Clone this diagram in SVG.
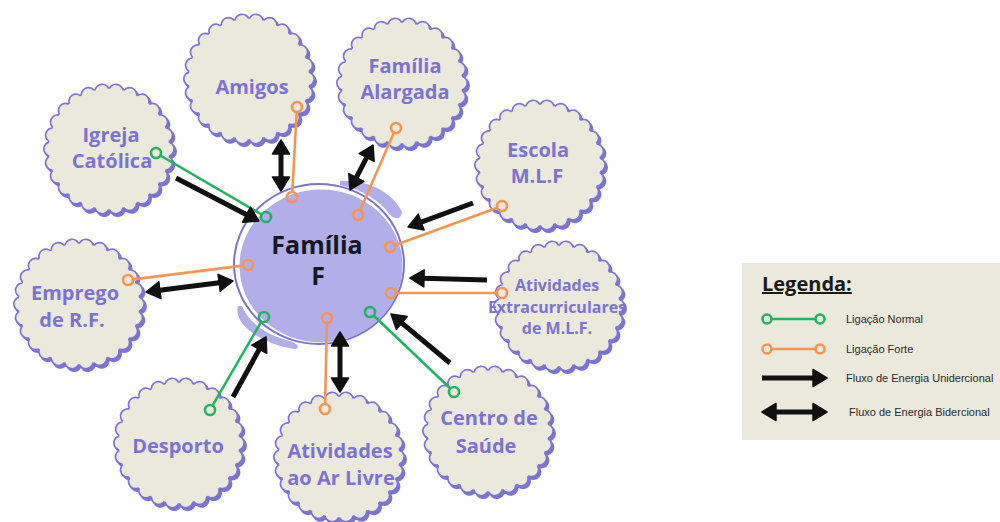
<svg xmlns="http://www.w3.org/2000/svg" width="1000" height="522" viewBox="0 0 1000 522">
<style>
.sp{fill:#7b74d4}
.sd{fill:none;stroke:#7b74d4;stroke-width:16;stroke-linecap:round;stroke-dasharray:0.001 0.999}
.sb{fill:#ebe8dc}
.sdb{fill:none;stroke:#ebe8dc;stroke-width:12.6;stroke-linecap:round;stroke-dasharray:0.001 0.999}
.lbl{font-family:"Open Sans","Liberation Sans",sans-serif;font-weight:700;font-size:20px;fill:#7b73d3;text-anchor:middle}
.sm{font-size:16px}
.ctr{font-family:"Open Sans","Liberation Sans",sans-serif;font-weight:700;font-size:25px;fill:#17171f;text-anchor:middle}
.g{stroke:#22b462;stroke-width:2.6;fill:none}
.o{stroke:#f7944f;stroke-width:2.6;fill:none}
.ar{stroke:#111;stroke-width:5;fill:none}
.uni{marker-end:url(#ah)}
.bi{marker-start:url(#ah);marker-end:url(#ah)}
.leg{font-family:"Liberation Sans",Arial,sans-serif;font-size:11px;fill:#2a2a2a}
</style>
<defs>
<g id="scallop">
  <g transform="translate(2,2.5)">
    <circle r="61" class="sp"/>
    <circle r="58" class="sd" pathLength="26"/>
  </g>
  <circle r="61" class="sp"/>
  <circle r="58" class="sd" pathLength="26"/>
  <circle r="60.2" class="sb"/>
  <circle r="58" class="sdb" pathLength="26"/>
</g>
<marker id="ah" viewBox="0 0 16 20" refX="11" refY="10" markerWidth="16" markerHeight="20" markerUnits="userSpaceOnUse" orient="auto-start-reverse">
  <path d="M1,1.5 L15,10 L1,18.5 Z" fill="#111" stroke="#111" stroke-width="1.5" stroke-linejoin="round"/>
</marker>
</defs>
<rect width="1000" height="522" fill="#ffffff"/>

<g id="node-amigos">
  <use href="#scallop" x="249" y="79"/>
  <text class="lbl" x="252" y="94">Amigos</text>
</g>
<g id="node-familia-alargada">
  <use href="#scallop" x="402" y="83"/>
  <text class="lbl" x="405" y="73">Família</text>
  <text class="lbl" x="405" y="99">Alargada</text>
</g>
<g id="node-escola">
  <use href="#scallop" x="540" y="165"/>
  <text class="lbl" x="538" y="157">Escola</text>
  <text class="lbl" x="537" y="183">M.L.F</text>
</g>
<g id="node-atividades-extra">
  <use href="#scallop" x="559" y="306"/>
  <text class="lbl sm" x="557" y="291">Atividades</text>
  <text class="lbl sm" x="557" y="313">Extracurriculares</text>
  <text class="lbl sm" x="557" y="334">de M.L.F.</text>
</g>
<g id="node-centro-saude">
  <use href="#scallop" x="488" y="431"/>
  <text class="lbl" x="489" y="425">Centro de</text>
  <text class="lbl" x="486" y="453">Saúde</text>
</g>
<g id="node-ar-livre">
  <use href="#scallop" x="339" y="457"/>
  <text class="lbl" x="340" y="458">Atividades</text>
  <text class="lbl" x="341" y="485">ao Ar Livre</text>
</g>
<g id="node-desporto">
  <use href="#scallop" x="179" y="443"/>
  <text class="lbl" x="178" y="453">Desporto</text>
</g>
<g id="node-emprego">
  <use href="#scallop" x="79" y="304"/>
  <text class="lbl" x="75" y="300">Emprego</text>
  <text class="lbl" x="72" y="327">de R.F.</text>
</g>
<g id="node-igreja">
  <use href="#scallop" x="109" y="149"/>
  <text class="lbl" x="111" y="142">Igreja</text>
  <text class="lbl" x="112" y="168">Católica</text>
</g>

<g id="node-familia-f">
  <path d="M340,181 C366,179 393,192 402,212 C401,221 393,220 387,211 C375,197 359,189 340,185 Z" fill="#b1aeea"/>
  <path d="M238,306 C233,322 256,342 294,349 C301,349 298,343 290,341 C266,335 249,323 242,306 Z" fill="#b1aeea"/>
  <ellipse cx="319" cy="264" rx="85" ry="80" fill="#ffffff" stroke="#7b74d4" stroke-width="2"/>
  <ellipse cx="321" cy="266" rx="81.5" ry="76.5" fill="#b1aeea"/>
  <text class="ctr" x="317" y="254">Família</text>
  <text class="ctr" x="318" y="285">F</text>
</g>

<g id="connectors">
  <line class="o" x1="296.7" y1="112" x2="292.3" y2="192"/>
  <line class="o" x1="394" y1="132.6" x2="360" y2="210.4"/>
  <line class="o" x1="497.3" y1="207.7" x2="394.7" y2="245.3"/>
  <line class="o" x1="497" y1="293" x2="396" y2="293"/>
  <line class="g" x1="450.4" y1="388.5" x2="373.6" y2="315.5"/>
  <line class="o" x1="325.1" y1="404" x2="326.9" y2="323"/>
  <line class="g" x1="212.5" y1="405.7" x2="261.5" y2="321.3"/>
  <line class="o" x1="133" y1="279.4" x2="243" y2="265.6"/>
  <line class="g" x1="160.3" y1="155.5" x2="261.7" y2="214.5"/>
  <g class="o">
    <circle cx="297" cy="107" r="5"/><circle cx="292" cy="197" r="5"/>
    <circle cx="396" cy="128" r="5"/><circle cx="358" cy="215" r="5"/>
    <circle cx="502" cy="206" r="5"/><circle cx="390" cy="247" r="5"/>
    <circle cx="502" cy="293" r="5"/><circle cx="391" cy="293" r="5"/>
    <circle cx="325" cy="409" r="5"/><circle cx="327" cy="318" r="5"/>
    <circle cx="128" cy="280" r="5"/><circle cx="248" cy="265" r="5"/>
  </g>
  <g class="g">
    <circle cx="454" cy="392" r="5"/><circle cx="370" cy="312" r="5"/>
    <circle cx="210" cy="410" r="5"/><circle cx="264" cy="317" r="5"/>
    <circle cx="156" cy="153" r="5"/><circle cx="266" cy="217" r="5"/>
  </g>
  <line class="ar bi" x1="281" y1="144" x2="281" y2="187"/>
  <line class="ar bi" x1="371.2" y1="148.6" x2="351.8" y2="186.4"/>
  <line class="ar uni" x1="473" y1="203" x2="411.8" y2="225.6"/>
  <line class="ar uni" x1="487" y1="280" x2="414" y2="278.1"/>
  <line class="ar uni" x1="450" y1="363" x2="394.1" y2="316.6"/>
  <line class="ar bi" x1="340" y1="336" x2="340" y2="388"/>
  <line class="ar uni" x1="233" y1="397" x2="264.1" y2="340.5"/>
  <line class="ar bi" x1="150" y1="291.5" x2="229" y2="281.5"/>
  <line class="ar uni" x1="176" y1="178" x2="255.4" y2="219.2"/>
</g>

<g id="legend">
  <rect x="742" y="263" width="258" height="177" fill="#ebe8dc"/>
  <text x="762" y="291" font-family="Open Sans, Liberation Sans, sans-serif" font-weight="700" font-size="20" fill="#1a1a1a" text-decoration="underline">Legenda:</text>
  <line class="g" x1="771.5" y1="319" x2="815.5" y2="319"/>
  <circle class="g" cx="767" cy="319" r="4.5"/><circle class="g" cx="820" cy="319" r="4.5"/>
  <text class="leg" x="846" y="323">Ligação Normal</text>
  <line class="o" x1="771.5" y1="349" x2="815.5" y2="349"/>
  <circle class="o" cx="767" cy="349" r="4.5"/><circle class="o" cx="820" cy="349" r="4.5"/>
  <text class="leg" x="846" y="353">Ligação Forte</text>
  <line class="ar uni" x1="762" y1="378" x2="823" y2="378"/>
  <text class="leg" x="846" y="382">Fluxo de Energia Unidercional</text>
  <line class="ar bi" x1="766" y1="412" x2="823" y2="412"/>
  <text class="leg" x="849" y="416">Fluxo de Energia Bidercional</text>
</g>
</svg>
